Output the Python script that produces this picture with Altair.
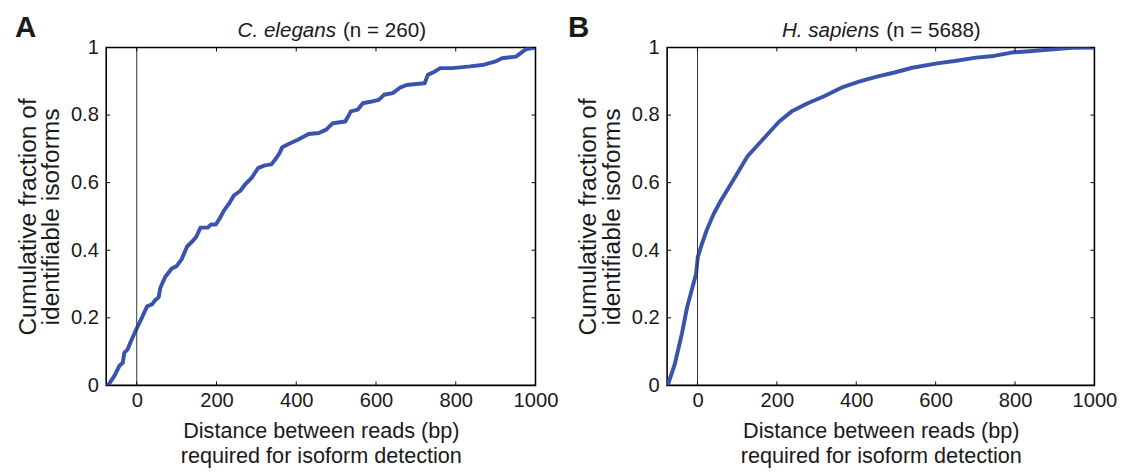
import altair as alt
import pandas as pd

# ---- data ----
ce_x = [-76, -72, -56, -43.5, -35, -31, -23, -14.8, 0, 14, 26, 38.5, 46.7, 55, 59, 71.3, 87.8,
        100, 112.4, 126.3, 141, 149.3, 160, 178, 186, 198.5, 208, 219, 231, 243.5, 260, 272,
        288.6, 305, 321.5, 337.8, 350, 358.4, 365, 382, 404, 431, 457, 475, 492, 523, 537,
        554, 567, 589, 607, 620, 642, 660, 677, 695, 722, 730, 748, 761, 792, 836, 871, 898,
        916, 951, 967, 977, 1000]
ce_y = [0, 0, 0.028, 0.058, 0.067, 0.097, 0.106, 0.13, 0.169, 0.203, 0.234, 0.24, 0.253, 0.261,
        0.288, 0.321, 0.346, 0.353, 0.373, 0.411, 0.428, 0.44, 0.467, 0.467, 0.476, 0.476,
        0.494, 0.518, 0.537, 0.562, 0.576, 0.595, 0.615, 0.644, 0.651, 0.654, 0.673, 0.688,
        0.705, 0.715, 0.727, 0.744, 0.747, 0.757, 0.776, 0.781, 0.811, 0.816, 0.835, 0.84,
        0.845, 0.86, 0.865, 0.881, 0.889, 0.891, 0.894, 0.919, 0.929, 0.939, 0.939, 0.944,
        0.949, 0.958, 0.968, 0.973, 0.987, 0.995, 1.0]

hs_x = [-75, -57, -39.3, -26, -12.5, -3.6, 0.9, 9.8, 23, 41, 59, 77, 103.6, 126, 153, 179.5,
        206, 237.5, 277.7, 317.8, 362.5, 407, 452, 496.4, 541, 603.6, 648, 701.8, 746.4, 791,
        835.7, 889, 942.9, 1000]
hs_y = [0, 0.064, 0.153, 0.232, 0.291, 0.33, 0.38, 0.414, 0.459, 0.508, 0.547, 0.582, 0.634,
        0.678, 0.713, 0.747, 0.781, 0.811, 0.835, 0.855, 0.881, 0.899, 0.914, 0.926, 0.94,
        0.953, 0.96, 0.97, 0.975, 0.985, 0.989, 0.994, 0.999, 1.0]

x_ticks = [0, 200, 400, 600, 800, 1000]
y_ticks = [0, 0.2, 0.4, 0.6, 0.8, 1]

x_title = ["Distance between reads (bp)", "required for isoform detection"]
y_title = ["Cumulative fraction of", "identifiable isoforms"]

H = 344
XMIN = -76.5
FONT = "Liberation Sans"
BLUE = "#3A53AC"
TXT = "#1a1a1a"
TICK = 4


def panel(xs, ys, W, letter, letter_x, species, ntext, italic_end, normal_start):
    df = pd.DataFrame({"x": xs, "y": ys, "o": list(range(len(xs)))})
    xs_ = alt.Scale(domain=[XMIN, 1000], nice=False, zero=False)
    ys_ = alt.Scale(domain=[0, 1], nice=False, zero=False)
    xax = alt.Axis(values=x_ticks, format="d", title=x_title, ticks=False, domain=False,
                   grid=False, labelPadding=5, titlePadding=11, labelFlush=False,
                   titleFontSize=22, titleLineHeight=25)
    yax = alt.Axis(values=y_ticks, format=".1~f", title=y_title, ticks=False, domain=False,
                   grid=False, labelPadding=8, titlePadding=7, labelFlush=False,
                   titleFontSize=25, titleLineHeight=24)

    line = alt.Chart(df).mark_line(color=BLUE, strokeWidth=4, clip=True,
                                   strokeJoin="round", strokeCap="round").encode(
        x=alt.X("x:Q", scale=xs_, axis=xax),
        y=alt.Y("y:Q", scale=ys_, axis=yax),
        order="o:Q",
    )

    zero = alt.Chart(pd.DataFrame({"x": [0]})).mark_rule(color="#333333", strokeWidth=1).encode(
        x=alt.X("x:Q", scale=xs_, axis=xax), y=alt.value(0), y2=alt.value(H))

    xt = pd.DataFrame({"x": x_ticks})
    yt = pd.DataFrame({"y": y_ticks})
    tk = dict(color="black", strokeWidth=1)
    bt = alt.Chart(xt).mark_rule(**tk).encode(
        x=alt.X("x:Q", scale=xs_, axis=xax), y=alt.value(H), y2=alt.value(H - TICK))
    tt = alt.Chart(xt).mark_rule(**tk).encode(
        x=alt.X("x:Q", scale=xs_, axis=xax), y=alt.value(0), y2=alt.value(TICK))
    lt = alt.Chart(yt).mark_rule(**tk).encode(
        y=alt.Y("y:Q", scale=ys_, axis=yax), x=alt.value(0), x2=alt.value(TICK))
    rt = alt.Chart(yt).mark_rule(**tk).encode(
        y=alt.Y("y:Q", scale=ys_, axis=yax), x=alt.value(W - TICK), x2=alt.value(W))

    t_it = alt.Chart(pd.DataFrame({"s": [species]})).mark_text(
        font=FONT, fontSize=21, fontStyle="italic", align="right", baseline="alphabetic",
        color=TXT).encode(text="s:N", x=alt.value(italic_end), y=alt.value(-11))
    t_n = alt.Chart(pd.DataFrame({"s": [ntext]})).mark_text(
        font=FONT, fontSize=21, align="left", baseline="alphabetic",
        color=TXT).encode(text="s:N", x=alt.value(normal_start), y=alt.value(-11))
    lab = alt.Chart(pd.DataFrame({"s": [letter]})).mark_text(
        font=FONT, fontSize=30, fontWeight="bold", align="left", baseline="alphabetic",
        color=TXT).encode(text="s:N", x=alt.value(letter_x), y=alt.value(-11))

    return alt.layer(line, zero, bt, tt, lt, rt, t_it, t_n, lab).properties(width=W, height=H)


left = panel(ce_x, ce_y, 437, "A", -93, "C. elegans", "(n = 260)", 234, 241)
right = panel(hs_x, hs_y, 435, "B", -101, "H. sapiens", "(n = 5688)", 216, 223)

chart = alt.hconcat(left, right, spacing=8).properties(
    padding={"left": 6, "top": 0, "right": 0, "bottom": 2}
).configure_view(stroke="black", strokeWidth=1.6).configure_axis(
    labelFont=FONT, titleFont=FONT, labelFontSize=20.5,
    labelColor=TXT, titleColor=TXT, titleFontWeight="normal",
)

chart.save("out.html", embed_options={"renderer": "svg", "actions": False})
